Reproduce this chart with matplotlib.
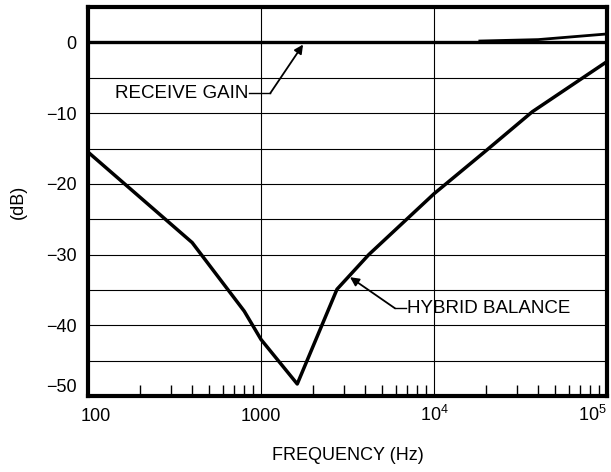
import matplotlib
matplotlib.use("Agg")
import matplotlib.pyplot as plt
from matplotlib.ticker import FixedLocator, LogLocator, NullFormatter
from matplotlib.transforms import ScaledTranslation

plt.rcParams["font.family"] = ["Liberation Sans", "DejaVu Sans"]
plt.rcParams["mathtext.fontset"] = "custom"
plt.rcParams["mathtext.rm"] = "Liberation Sans"
plt.rcParams["mathtext.it"] = "Liberation Sans:italic"

# hybrid balance curve (Hz, dB)
hybrid_freq = [100, 400, 800, 1000, 1620, 2750, 4200, 10000, 20000, 37000, 100000]
hybrid_db = [-15.5, -28.3, -38.0, -42.0, -48.3, -34.9, -30.0, -21.4, -15.3, -9.8, -2.7]

# receive gain curves
gain_freq = [100, 100000]
gain_db = [0, 0]
gain_hi_freq = [18400, 40000, 100000]
gain_hi_db = [0.2, 0.4, 1.2]

xticks = [100, 1000, 10000, 100000]
xticklabels = ["100", "1000", r"$\mathrm{10^4}$", r"$\mathrm{10^5}$"]
yticks = [0, -10, -20, -30, -40, -50]
yticklabels = ["0", "\u221210", "\u221220", "\u221230", "\u221240", "\u221250"]

fig = plt.figure(figsize=(6.11, 4.72), dpi=100)
ax = fig.add_axes([0.144, 0.161, 0.8495, 0.824])

ax.plot(gain_freq, gain_db, color="black", lw=2.4, solid_capstyle="butt")
ax.plot(gain_hi_freq, gain_hi_db, color="black", lw=2.0)
ax.plot(hybrid_freq, hybrid_db, color="black", lw=2.5)

ax.set_xscale("log")
ax.set_xlim(100, 100000)
ax.set_ylim(-50, 5)

ax.xaxis.set_major_locator(FixedLocator(xticks))
ax.set_xticklabels(xticklabels, fontsize=13)
ax.xaxis.set_minor_locator(LogLocator(base=10, subs=range(2, 10)))
ax.xaxis.set_minor_formatter(NullFormatter())
ax.set_yticks(yticks)
ax.set_yticklabels(yticklabels, fontsize=13)
ax.set_yticks(range(-45, 5, 10), minor=True)

ax.tick_params(axis="x", which="major", length=0, pad=18)
ax.tick_params(axis="x", which="minor", direction="in", length=8, width=1, top=False)
ax.tick_params(axis="y", which="both", length=0, pad=8)

# baseline-align the x labels and nudge the edge ones like the original print
xl = ax.get_xticklabels()
for lab in xl:
    lab.set_va("baseline")
xl[0].set_transform(xl[0].get_transform() + ScaledTranslation(0.08, 0, fig.dpi_scale_trans))
xl[-1].set_transform(xl[-1].get_transform() + ScaledTranslation(-0.15, 0, fig.dpi_scale_trans))
ax.get_yticklabels()[-1].set_va("bottom")

ax.grid(True, which="major", axis="x", color="black", lw=0.8)
ax.grid(True, which="both", axis="y", color="black", lw=0.8)

for s in ax.spines.values():
    s.set_linewidth(3)

ax.set_xlabel("FREQUENCY (Hz)", fontsize=13, labelpad=16)
ax.set_ylabel("(dB)", fontsize=13, labelpad=14)

arrow = dict(arrowstyle="-|>", color="black", lw=1.3, shrinkA=0, shrinkB=0,
             mutation_scale=13)

ax.text(840, -7.2, "RECEIVE GAIN", fontsize=13.5, ha="right", va="center")
ax.plot([850, 1130], [-7.2, -7.2], color="black", lw=1.0)
ax.annotate("", xy=(1750, -0.3), xytext=(1130, -7.2), arrowprops=arrow)

ax.text(7000, -37.6, "HYBRID BALANCE", fontsize=13.5, ha="left", va="center")
ax.plot([5950, 6900], [-37.6, -37.6], color="black", lw=1.0)
ax.annotate("", xy=(3270, -33.2), xytext=(5950, -37.6), arrowprops=arrow)

fig.savefig("out.png", dpi=100)
